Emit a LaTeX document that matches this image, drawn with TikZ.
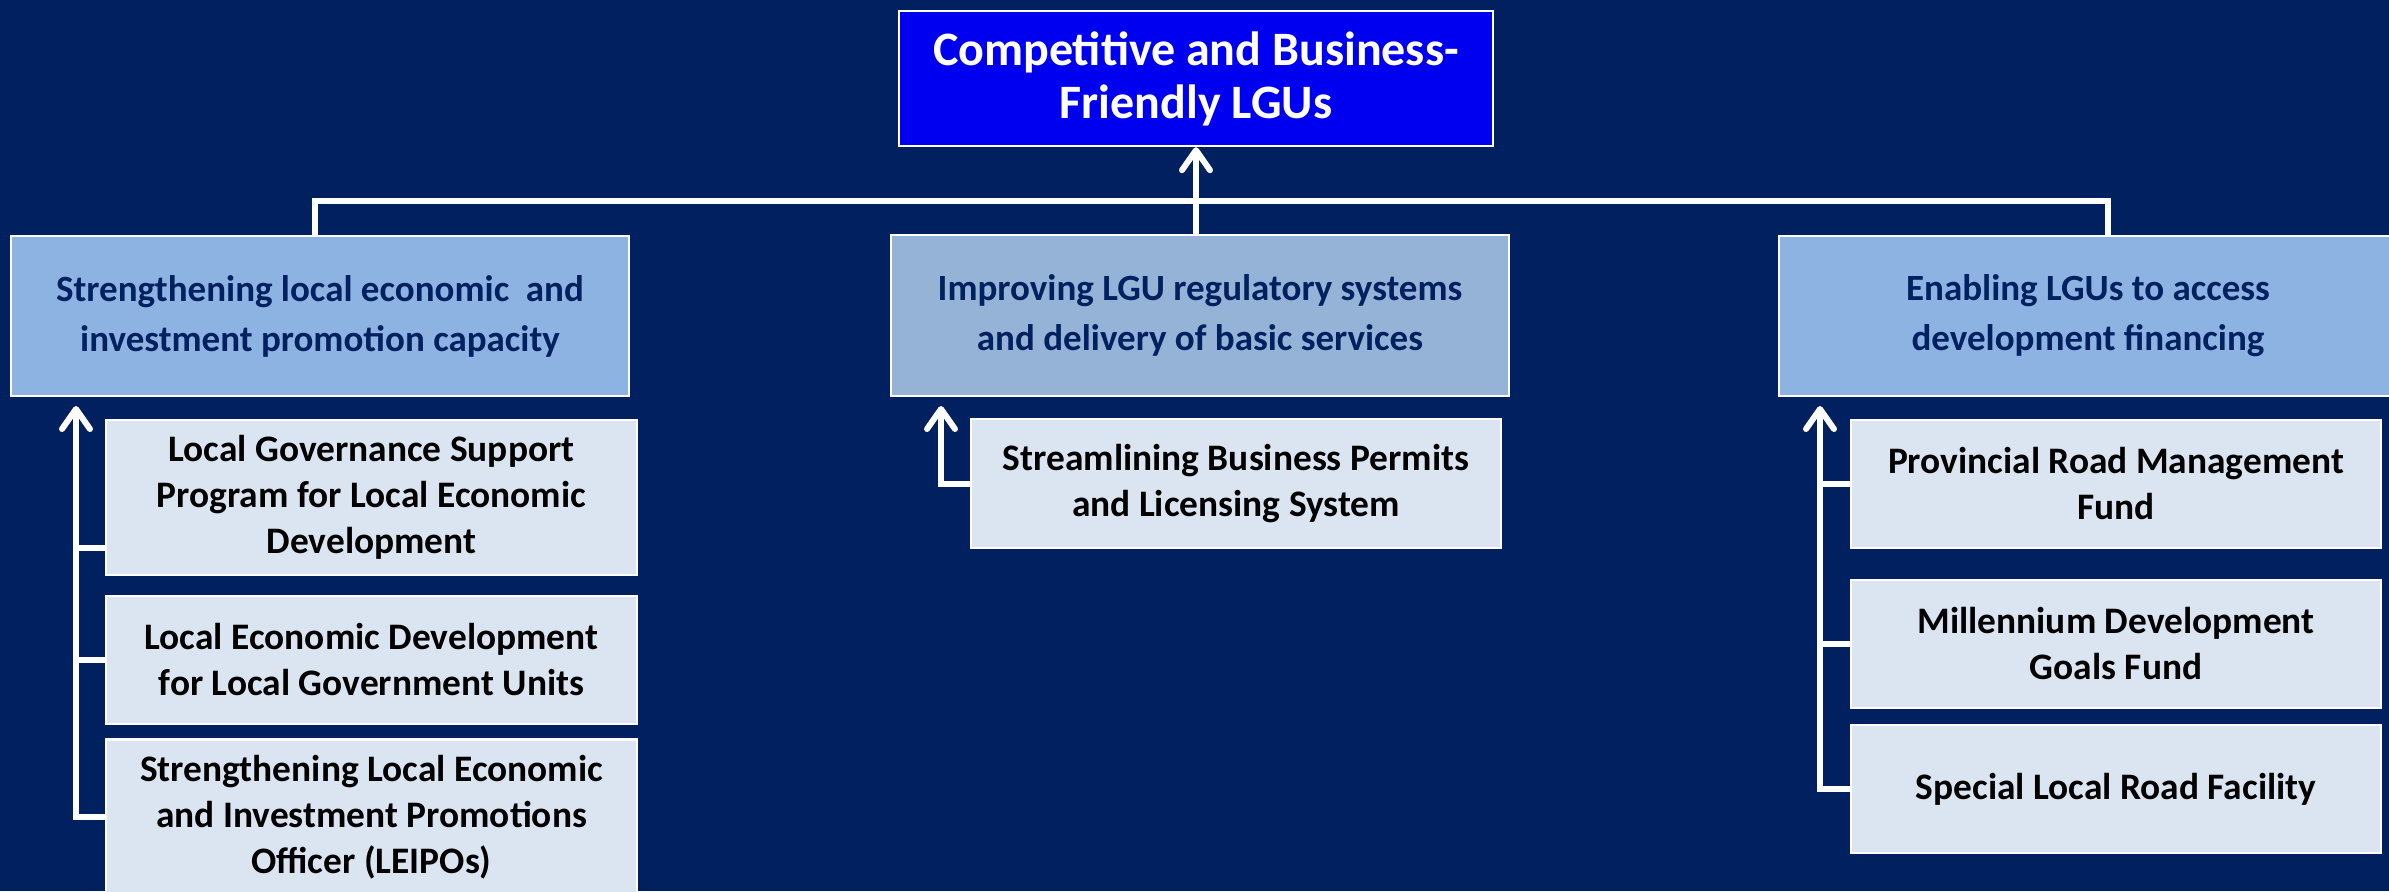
\documentclass[tikz,border=0pt]{standalone}
\usepackage{fontspec}
\setmainfont{Carlito}
\usetikzlibrary{arrows.meta}
\definecolor{bgnavy}{RGB}{0,32,96}
\definecolor{topblue}{RGB}{0,0,240}
\definecolor{midblue}{RGB}{141,179,226}
\definecolor{midgrey}{RGB}{149,179,215}
\definecolor{subfill}{RGB}{219,229,241}
\definecolor{navytext}{RGB}{0,32,96}
\tikzset{
  box/.style={draw=white, line width=1.2pt, inner sep=0pt, align=center, font=\bfseries},
  topbox/.style={box, fill=topblue, text=white, minimum width=297pt, minimum height=67.5pt,
    font=\bfseries\fontsize{24pt}{26.5pt}\selectfont},
  midbox/.style={box, fill=midblue, text=navytext, minimum width=309pt, minimum height=80pt,
    font=\bfseries\fontsize{18.5pt}{25pt}\selectfont},
  subbox/.style={box, fill=subfill, text=black, minimum width=265.5pt,
    font=\bfseries\fontsize{18.7pt}{23pt}\selectfont},
  conn/.style={draw=white, line width=3pt},
  arr/.style={-{Straight Barb[length=10pt,width=14pt,round]}}
}
\begin{document}
\begin{tikzpicture}[x=0.5pt,y=-0.5pt]
\fill[bgnavy] (0,0) rectangle (2389,891);
\useasboundingbox (0,0) rectangle (2389,891);

% nodes
\node[topbox] (top) at (1196,78.5) {Competitive and Business-\\Friendly LGUs};
\node[midbox] (mid1) at (320,316) {Strengthening local economic~ and\\investment promotion capacity};
\node[midbox, fill=midgrey, minimum height=80.5pt] (mid2) at (1200,315.5) {Improving LGU regulatory systems\\and delivery of basic services};
\node[midbox] (mid3) at (2088,316) {Enabling LGUs to access\\development financing};

\node[subbox, minimum height=77.5pt] (s11) at (371.5,497.5) {Local Governance Support\\Program for Local Economic\\Development};
\node[subbox, minimum height=64pt] (s12) at (371.5,660) {Local Economic Development\\for Local Government Units};
\node[subbox, minimum height=77.5pt] (s13) at (371.5,817) {Strengthening Local Economic\\and Investment Promotions\\Officer (LEIPOs)};

\node[subbox, minimum width=265pt, minimum height=64.5pt] (s21) at (1236,483.5) {Streamlining Business Permits\\and Licensing System};

\node[subbox, minimum width=265pt, minimum height=64pt] (s31) at (2116,484) {Provincial Road Management\\Fund};
\node[subbox, minimum width=265pt, minimum height=64pt] (s32) at (2116,644) {Millennium Development\\Goals Fund};
\node[subbox, minimum width=265pt, minimum height=64pt] (s33) at (2116,789) {Special Local Road Facility};

% connector coordinates
\coordinate (bl) at (315,201);
\coordinate (br) at (2108,201);
\coordinate (lt) at (76,406);
\coordinate (mt) at (941,406);
\coordinate (rt) at (1820,406);

% top level
\draw[conn] (mid1.north -| bl) -- (bl) -- (br) -- (mid3.north -| br);
\draw[conn,arr] (mid2.north -| top.south) -- (top.south);

% left group
\draw[conn,arr] (s13.west) -- (s13.west -| lt) -- (lt);
\draw[conn] (s12.west) -- (s12.west -| lt);
\draw[conn] ([yshift=-25.25pt]s11.west) -- ([yshift=-25.25pt]s11.west -| lt);

% middle group
\draw[conn,arr] (s21.west) -- (s21.west -| mt) -- (mt);

% right group
\draw[conn,arr] (s33.west) -- (s33.west -| rt) -- (rt);
\draw[conn] (s32.west) -- (s32.west -| rt);
\draw[conn] (s31.west) -- (s31.west -| rt);
\end{tikzpicture}
\end{document}
